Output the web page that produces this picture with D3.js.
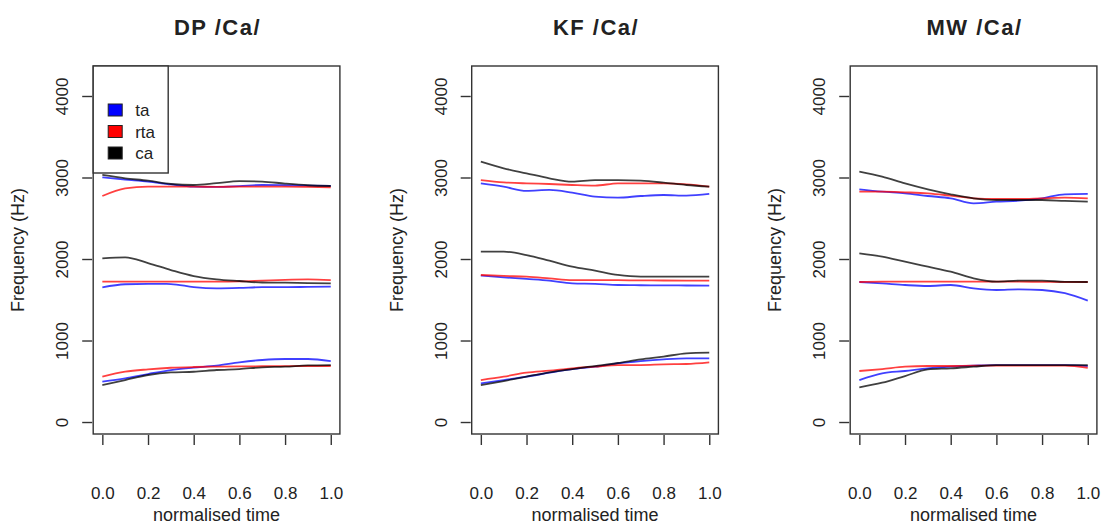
<!DOCTYPE html>
<html>
<head>
<meta charset="utf-8">
<script src="https://cdn.jsdelivr.net/npm/d3@7"></script>
<style>
  body { margin: 0; background: #fff; }
  svg text { font-family: "Liberation Sans", Arial, sans-serif; fill: #222; }
</style>
</head>
<body>
<div id="chart"></div>
<script>
// normalised time points
var times = [0, 0.1, 0.2, 0.3, 0.4, 0.5, 0.6, 0.7, 0.8, 0.9, 1.0];

var speakers = ["DP", "KF", "MW"];
var vowels = ["ta", "rta", "ca"];
var vowelColours = ["#0000ff", "#ff0000", "#000000"];
var yTicks = [0, 1000, 2000, 3000, 4000];
var xTicks = [0, 0.2, 0.4, 0.6, 0.8, 1.0];

// formant tracks (Hz)
var dp_ta_F1 = [495, 536, 589, 638, 667, 691, 732, 761, 773, 773, 748];
var dp_ta_F2 = [1652, 1690, 1695, 1693, 1655, 1640, 1645, 1655, 1655, 1658, 1661];
var dp_ta_F3 = [3002, 2975, 2950, 2915, 2888, 2885, 2895, 2908, 2905, 2900, 2896];
var dp_rta_F1 = [556, 617, 646, 666, 675, 679, 682, 684, 686, 687, 687];
var dp_rta_F2 = [1722, 1722, 1722, 1722, 1722, 1722, 1725, 1735, 1745, 1750, 1740];
var dp_rta_F3 = [2773, 2867, 2888, 2888, 2888, 2885, 2888, 2888, 2888, 2885, 2880];
var dp_ca_F1 = [454, 515, 577, 609, 617, 638, 650, 671, 679, 695, 699];
var dp_ca_F2 = [2008, 2020, 1950, 1865, 1791, 1751, 1730, 1712, 1710, 1705, 1702];
var dp_ca_F3 = [3031, 2990, 2961, 2920, 2908, 2930, 2955, 2950, 2925, 2905, 2896];

var kf_ta_F1 = [475, 515, 556, 605, 650, 679, 720, 748, 769, 781, 781];
var kf_ta_F2 = [1796, 1775, 1755, 1734, 1701, 1695, 1681, 1678, 1676, 1675, 1673];
var kf_ta_F3 = [2928, 2888, 2835, 2847, 2814, 2765, 2753, 2773, 2785, 2777, 2798];
var kf_rta_F1 = [515, 556, 605, 630, 659, 679, 699, 699, 708, 712, 732];
var kf_rta_F2 = [1804, 1792, 1783, 1763, 1742, 1742, 1740, 1738, 1736, 1735, 1734];
var kf_rta_F3 = [2969, 2941, 2928, 2920, 2908, 2900, 2928, 2928, 2928, 2915, 2888];
var kf_ca_F1 = [454, 503, 556, 609, 650, 687, 724, 769, 802, 843, 851];
var kf_ca_F2 = [2090, 2090, 2049, 1980, 1906, 1857, 1804, 1783, 1783, 1783, 1783];
var kf_ca_F3 = [3194, 3113, 3051, 2990, 2949, 2969, 2969, 2961, 2937, 2908, 2888];

var mw_ta_F1 = [515, 597, 626, 659, 679, 691, 699, 699, 699, 699, 687];
var mw_ta_F2 = [1718, 1701, 1681, 1669, 1681, 1640, 1620, 1628, 1620, 1580, 1489];
var mw_ta_F3 = [2855, 2826, 2806, 2773, 2745, 2683, 2703, 2716, 2745, 2794, 2798];
var mw_rta_F1 = [626, 650, 679, 687, 687, 691, 691, 691, 691, 691, 666];
var mw_rta_F2 = [1718, 1722, 1722, 1722, 1722, 1722, 1722, 1722, 1720, 1718, 1718];
var mw_rta_F3 = [2826, 2826, 2818, 2806, 2777, 2745, 2736, 2736, 2745, 2753, 2745];
var mw_ca_F1 = [425, 482, 564, 646, 659, 679, 699, 699, 699, 699, 699];
var mw_ca_F2 = [2070, 2029, 1967, 1906, 1845, 1763, 1722, 1734, 1734, 1720, 1718];
var mw_ca_F3 = [3072, 3011, 2928, 2855, 2794, 2745, 2724, 2724, 2724, 2712, 2703];

// gather tracks per speaker -> vowel -> [F1, F2, F3]
var tracks = {
  DP: { ta: [dp_ta_F1, dp_ta_F2, dp_ta_F3], rta: [dp_rta_F1, dp_rta_F2, dp_rta_F3], ca: [dp_ca_F1, dp_ca_F2, dp_ca_F3] },
  KF: { ta: [kf_ta_F1, kf_ta_F2, kf_ta_F3], rta: [kf_rta_F1, kf_rta_F2, kf_rta_F3], ca: [kf_ca_F1, kf_ca_F2, kf_ca_F3] },
  MW: { ta: [mw_ta_F1, mw_ta_F2, mw_ta_F3], rta: [mw_rta_F1, mw_rta_F2, mw_rta_F3], ca: [mw_ca_F1, mw_ca_F2, mw_ca_F3] }
};

var W = 1102, H = 525;
var svg = d3.select("#chart").append("svg")
    .attr("width", W)
    .attr("height", H);

// panel geometry
var boxTop = 66, boxBottom = 434, boxW = 246.7, panelStep = 378.5, firstLeft = 93.2;

var yScale = d3.scaleLinear()
    .domain([-147, 4368])
    .range([boxBottom, boxTop]);

speakers.forEach(function (sp, i) {
  var left = firstLeft + i * panelStep;
  var xScale = d3.scaleLinear()
      .domain([-0.04, 1.04])
      .range([left, left + boxW]);

  var g = svg.append("g");

  // lines: one per vowel per formant
  var line = d3.line()
      .x(function (d) { return xScale(d[0]); })
      .y(function (d) { return yScale(d[1]); })
      .curve(d3.curveMonotoneX);

  vowels.forEach(function (v, vi) {
    tracks[sp][v].forEach(function (vals) {
      g.append("path")
        .datum(times.map(function (t, k) { return [t, vals[k]]; }))
        .attr("fill", "none")
        .attr("stroke", vowelColours[vi])
        .attr("stroke-opacity", 0.75)
        .attr("stroke-width", 1.8)
        .attr("d", line);
    });
  });

  // plot box
  g.append("rect")
    .attr("x", left).attr("y", boxTop)
    .attr("width", boxW).attr("height", boxBottom - boxTop)
    .attr("fill", "none").attr("stroke", "#333").attr("stroke-width", 1.4);

  // x axis (R style: offset below box)
  var xaxis = d3.axisBottom(xScale)
      .tickValues(xTicks)
      .tickSize(10)
      .tickPadding(42)
      .tickFormat(d3.format(".1f"));
  var gx = g.append("g")
      .attr("transform", "translate(0," + (boxBottom + 1) + ")")
      .call(xaxis);
  gx.select(".domain").remove();
  gx.selectAll(".tick line").attr("stroke", "#333").attr("stroke-width", 1.4);
  gx.selectAll("text").attr("font-size", 17).attr("font-family", "Liberation Sans, Arial, sans-serif").attr("fill", "#222");

  // y axis
  var yaxis = d3.axisLeft(yScale)
      .tickValues(yTicks)
      .tickSize(10)
      .tickFormat(d3.format("d"));
  var gy = g.append("g")
      .attr("transform", "translate(" + (left - 1) + ",0)")
      .call(yaxis);
  gy.select(".domain").remove();
  gy.selectAll(".tick line").attr("stroke", "#333").attr("stroke-width", 1.4);
  gy.selectAll("text")
    .attr("font-size", 17)
    .attr("font-family", "Liberation Sans, Arial, sans-serif")
    .attr("fill", "#222")
    .attr("x", null).attr("dy", null)
    .attr("text-anchor", "middle")
    .attr("transform", "translate(-24,0) rotate(-90)");

  // titles
  var cx = left + boxW / 2;
  g.append("text")
    .attr("x", cx + 1).attr("y", 35)
    .attr("text-anchor", "middle")
    .attr("font-size", 22).attr("font-weight", "bold")
    .attr("letter-spacing", 1.5)
    .text(sp + " /Ca/");

  g.append("text")
    .attr("x", cx).attr("y", 521)
    .attr("text-anchor", "middle")
    .attr("font-size", 18)
    .text("normalised time");

  g.append("text")
    .attr("transform", "translate(" + (left - 69) + "," + ((boxTop + boxBottom) / 2) + ") rotate(-90)")
    .attr("text-anchor", "middle")
    .attr("font-size", 18)
    .text("Frequency (Hz)");

  // legend only on the first panel
  if (i === 0) {
    var lg = g.append("g");
    lg.append("rect")
      .attr("x", left).attr("y", boxTop)
      .attr("width", 75).attr("height", 107)
      .attr("fill", "#fff").attr("stroke", "#333").attr("stroke-width", 1.4);
    vowels.forEach(function (v, vi) {
      var yy = 110 + vi * 21.5;
      lg.append("rect")
        .attr("x", left + 15).attr("y", yy - 6)
        .attr("width", 14).attr("height", 12)
        .attr("fill", vowelColours[vi]).attr("stroke", "#222").attr("stroke-width", 1);
      lg.append("text")
        .attr("x", left + 42).attr("y", yy + 6)
        .attr("font-size", 17)
        .text(v);
    });
  }
});
</script>
</body>
</html>
